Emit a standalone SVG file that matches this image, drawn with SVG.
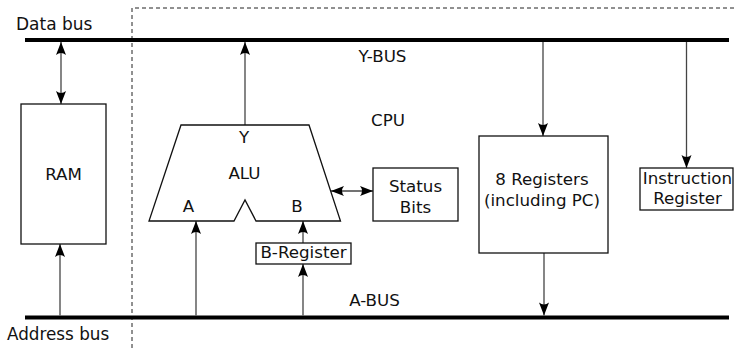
<svg xmlns="http://www.w3.org/2000/svg" width="734" height="348" viewBox="0 0 734 348">
<defs>
<style>
.t{font-family:"DejaVu Sans","Liberation Sans",sans-serif;font-size:16.7px;fill:#111}
.m{text-anchor:middle}
.bx{fill:#fff;stroke:#111;stroke-width:1.3}
.bus{stroke:#000;stroke-width:4;fill:none}
.dash{stroke:#222;stroke-width:1;stroke-dasharray:4 3;fill:none}
.c{stroke:#444;stroke-width:1.3;fill:none}
.a{marker-end:url(#ah)}
.d{marker-start:url(#ah);marker-end:url(#ah)}
</style>
<marker id="ah" viewBox="-14 -6 15 12" refX="0" refY="0" markerWidth="15" markerHeight="12" markerUnits="userSpaceOnUse" orient="auto-start-reverse">
<path d="M0,0 L-13,-5 Q-9,0 -13,5 Z" fill="#000"/>
</marker>
</defs>
<rect width="734" height="348" fill="#fff"/>
<g id="frame">
<path class="dash" d="M132,348 V8 H734"/>
</g>
<g id="buses">
<line class="bus" x1="25" y1="40" x2="729" y2="40"/>
<line class="bus" x1="25" y1="317.5" x2="729" y2="317.5"/>
<text class="t" x="16" y="30" style="font-size:17px">Data bus</text>
<text class="t" x="7" y="340" style="font-size:16.8px">Address bus</text>
<text class="t m" x="382.5" y="61.5">Y-BUS</text>
<text class="t m" x="374.5" y="306">A-BUS</text>
<text class="t m" x="388" y="125.5">CPU</text>
</g>
<g id="connectors">
<line class="c d" x1="61" y1="42" x2="61" y2="104"/>
<line class="c a" x1="60" y1="315.5" x2="60" y2="244"/>
<line class="c a" x1="245" y1="125" x2="245" y2="42"/>
<line class="c a" x1="196" y1="315.5" x2="196" y2="221"/>
<line class="c a" x1="303" y1="243" x2="303" y2="221"/>
<line class="c a" x1="303" y1="315.5" x2="303" y2="264"/>
<line class="c a" x1="543" y1="42" x2="543" y2="136"/>
<line class="c a" x1="544" y1="253" x2="544" y2="315.5"/>
<line class="c a" x1="686.5" y1="42" x2="686.5" y2="168"/>
<line class="c d" x1="331" y1="191" x2="373" y2="191"/>
</g>
<g id="ram">
<rect class="bx" x="21" y="104" width="85" height="140"/>
<text class="t m" x="63.5" y="180">RAM</text>
</g>
<g id="alu">
<path class="bx" d="M181,125 H309 L340.5,221 H256 L245,200 L234,221 H149 Z"/>
<text class="t m" x="244" y="143">Y</text>
<text class="t m" x="244.5" y="179">ALU</text>
<text class="t m" x="188.5" y="211.5">A</text>
<text class="t m" x="297" y="211.5">B</text>
</g>
<g id="status">
<rect class="bx" x="373" y="168" width="85" height="53"/>
<text class="t m" x="415.5" y="192">Status</text>
<text class="t m" x="415.5" y="212.5">Bits</text>
</g>
<g id="breg">
<rect class="bx" x="256" y="243" width="95" height="21"/>
<text class="t m" x="303.5" y="258">B-Register</text>
</g>
<g id="regs">
<rect class="bx" x="479" y="136" width="129" height="117"/>
<text class="t m" x="542" y="185">8 Registers</text>
<text class="t m" x="542" y="205.5">(including PC)</text>
</g>
<g id="ir">
<rect class="bx" x="640" y="168" width="93" height="42"/>
<text class="t m" x="687.5" y="183.5">Instruction</text>
<text class="t m" x="687.5" y="203.5">Register</text>
</g>
</svg>
